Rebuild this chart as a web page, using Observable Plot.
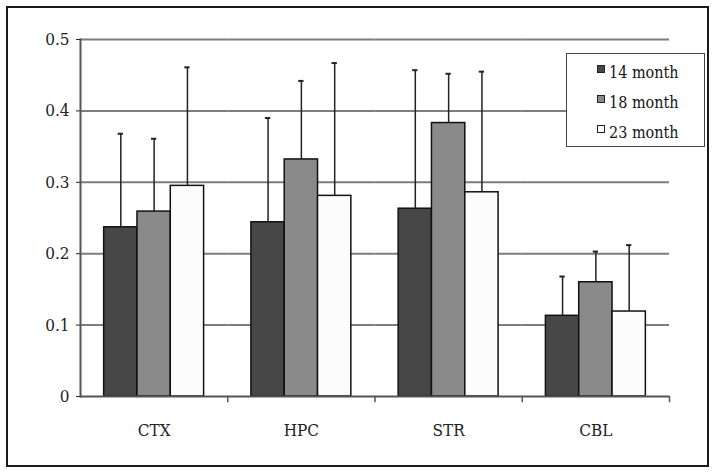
<!DOCTYPE html>
<html>
<head>
<meta charset="utf-8">
<script src="https://cdn.jsdelivr.net/npm/d3@7"></script>
<script src="https://cdn.jsdelivr.net/npm/@observablehq/plot@0.6"></script>
<style>
  html, body { margin: 0; padding: 0; background: #fff; }
  #wrap { position: relative; width: 720px; height: 476px; overflow: hidden; background: #fff; }
  #chart { position: absolute; left: 0; top: 0; }
  #chart svg, #chart text { font-stretch: condensed; }
  #border { position: absolute; left: 6px; top: 6px; width: 703px; height: 461px; box-sizing: border-box; border: 2px solid #1a1a1a; pointer-events: none; }
  #legend { position: absolute; left: 566px; top: 53px; width: 139px; height: 94px; box-sizing: border-box; border: 1.5px solid #444; background: #fff; font-family: "DejaVu Serif Condensed", "DejaVu Serif", serif; font-stretch: condensed; font-size: 16px; color: #151515; }
  .row { position: absolute; left: 0; height: 30px; width: 100%; }
  .sw { position: absolute; left: 30px; width: 8px; height: 8px; box-sizing: border-box; border: 1px solid #222; }
  .lbl { position: absolute; left: 42px; line-height: 17px; white-space: nowrap; }
</style>
</head>
<body>
<div id="wrap">
  <div id="chart"></div>
  <div id="border"></div>
  <div id="legend"></div>
</div>
<script>
// ---- data ----
const categories = ["CTX", "HPC", "STR", "CBL"];
const series = ["14 month", "18 month", "23 month"];
const seriesColors = ["#474747", "#8a8a8a", "#fcfcfc"];
const mean14 = [0.237, 0.244, 0.263, 0.113];
const mean18 = [0.259, 0.332, 0.383, 0.160];
const mean23 = [0.295, 0.281, 0.286, 0.119];
const err14 = [0.131, 0.146, 0.194, 0.055];
const err18 = [0.102, 0.110, 0.069, 0.043];
const err23 = [0.166, 0.186, 0.169, 0.093];
const yTicks = [0, 0.1, 0.2, 0.3, 0.4, 0.5];
const yTickLabels = ["0", "0.1", "0.2", "0.3", "0.4", "0.5"];
const gridValues = [0.1, 0.2, 0.3, 0.4, 0.5];

const means = [mean14, mean18, mean23];
const errs = [err14, err18, err23];
const data = categories.flatMap((c, i) =>
  series.map((s, j) => ({cat: c, series: s, value: means[j][i], err: errs[j][i]}))
);

const serifStack = '"DejaVu Serif Condensed", "DejaVu Serif", serif';

const chart = Plot.plot({
  width: 720,
  height: 476,
  marginTop: 39,
  marginRight: 51,
  marginBottom: 80,
  marginLeft: 80,
  style: {background: "transparent", fontFamily: serifStack, fontSize: "17px", color: "#222"},
  fx: {domain: categories, padding: 0, round: false, axis: "bottom", tickSize: 0, tickPadding: 27, label: null},
  x: {domain: series, paddingInner: 0, paddingOuter: 0.71, round: false, axis: null},
  y: {domain: [0, 0.5], ticks: yTicks, tickFormat: d => yTickLabels[yTicks.indexOf(d)], tickSize: 4, tickPadding: 7, label: null},
  color: {domain: series, range: seriesColors},
  marks: [
    Plot.ruleY(gridValues, {stroke: "#7d7d7d", strokeWidth: 2}),
    Plot.barY(data, {fx: "cat", x: "series", y: "value", fill: "series", stroke: "#111", strokeWidth: 1.5}),
    Plot.ruleX(data, {fx: "cat", x: "series", y1: "value", y2: d => d.value + d.err, stroke: "#222", strokeWidth: 1.5}),
    Plot.tickY(data, {fx: "cat", x: "series", y: d => d.value + d.err, stroke: "#222", strokeWidth: 2, insetLeft: 14, insetRight: 14}),
    Plot.ruleY([0], {stroke: "#555", strokeWidth: 2}),
    Plot.frame({anchor: "left", facet: "super", stroke: "#555", strokeWidth: 2}),
    Plot.frame({anchor: "right", insetTop: 357, insetBottom: -5, stroke: "#555", strokeWidth: 1.5})
  ]
});
document.getElementById("chart").appendChild(chart);

// ---- legend ----
const legend = d3.select("#legend");
series.forEach((s, i) => {
  const row = legend.append("div").attr("class", "row").style("top", (i * 30) + "px");
  row.append("div").attr("class", "sw").style("top", "11px").style("background", seriesColors[i]);
  row.append("div").attr("class", "lbl").style("top", "10px").text(s);
});
</script>
</body>
</html>
